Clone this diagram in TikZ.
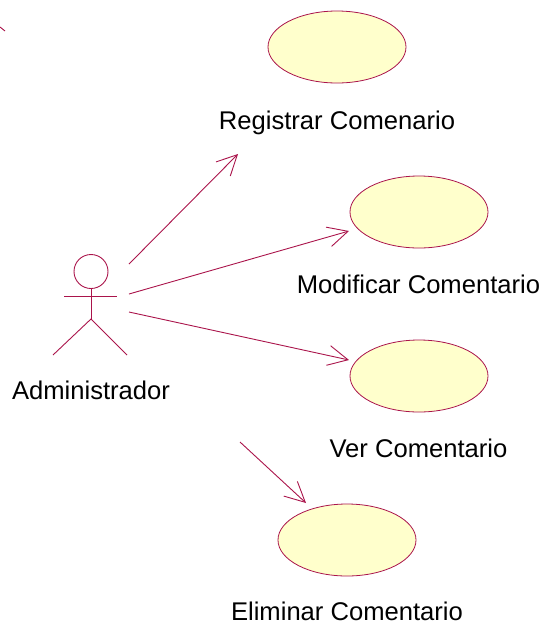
\documentclass[tikz,border=0pt]{standalone}
\usepackage{fontspec}
\setmainfont{Liberation Sans}
\usetikzlibrary{arrows.meta,shapes.geometric}
\definecolor{umlline}{RGB}{170,20,75}
\definecolor{umlfill}{RGB}{255,255,204}
\tikzset{
  usecase/.style={ellipse,draw=umlline,fill=umlfill,line width=0.8pt,minimum width=138pt,minimum height=72pt,inner sep=0pt},
  lbl/.style={font=\fontsize{25.6}{28}\selectfont,text=black,inner sep=0pt,anchor=base},
  assoc/.style={draw=umlline,line width=0.9pt,-{Straight Barb[length=20pt,width=20pt,line width=0.9pt]}},
  stick/.style={draw=umlline,line width=0.9pt}
}
\begin{document}
\begin{tikzpicture}[x=1pt,y=-1pt]
\useasboundingbox (0,0) rectangle (545,622);
\node[usecase] (uc1) at (337,47) {};
\node[usecase] (uc2) at (419,212) {};
\node[usecase] (uc3) at (419,376) {};
\node[usecase] (uc4) at (347,540) {};
\node[lbl] (t1) at (337,129) {Registrar Comenario};
\node[lbl] (t2) at (418.5,293) {Modificar Comentario};
\node[lbl] (t3) at (418.5,457) {Ver Comentario};
\node[lbl] (t4) at (347,620.5) {Eliminar Comentario};
\node[lbl] (t5) at (91,399.5) {Administrador};
% actor
\node[circle,stick,minimum size=34pt,inner sep=0pt] (head) at (91,271.5) {};
\coordinate (hip) at (91,319);
\coordinate (armL) at (64,296.5);
\coordinate (armR) at (117,296.5);
\coordinate (legL) at (53,355);
\coordinate (legR) at (127,355);
\draw[stick] (head.south) -- (hip);
\draw[stick] (armL) -- (armR);
\draw[stick] (legL) -- (hip) -- (legR);
% associations
\coordinate (a1) at (129,264); \coordinate (b1) at (238,154);
\coordinate (a2) at (129,294); \coordinate (b2) at (349,231);
\coordinate (a3) at (129,312); \coordinate (b3) at (349,360);
\coordinate (a4) at (240,442); \coordinate (b4) at (306,503);
\coordinate (s0) at (0,27); \coordinate (s1) at (5,31);
\draw[assoc] (a1) -- (b1);
\draw[assoc] (a2) -- (b2);
\draw[assoc] (a3) -- (b3);
\draw[assoc] (a4) -- (b4);
\draw[stick] (s0) -- (s1);
\end{tikzpicture}
\end{document}
